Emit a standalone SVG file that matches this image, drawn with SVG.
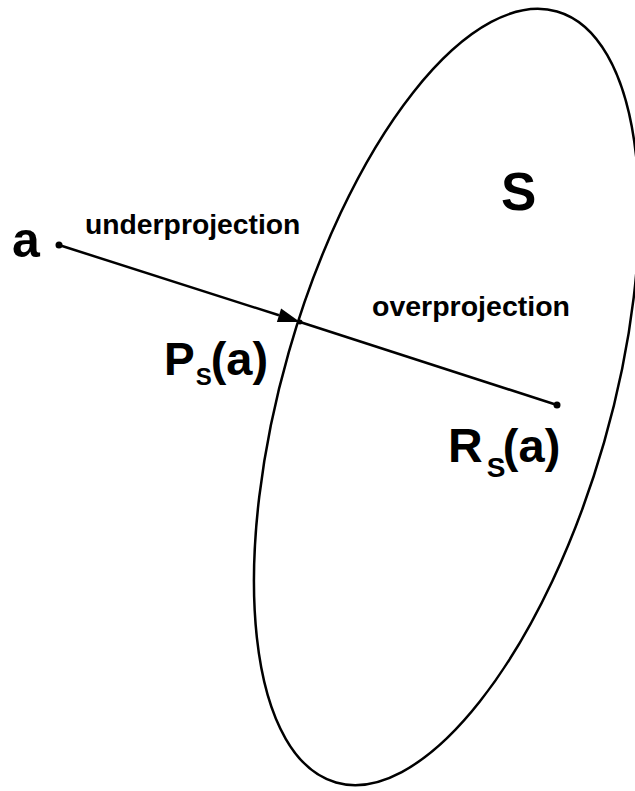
<svg xmlns="http://www.w3.org/2000/svg" width="635" height="791" viewBox="0 0 635 791">
<style>
.ln{stroke:#000;stroke-width:2.5;fill:none}
.t{font-family:"Liberation Sans",Arial,sans-serif;font-weight:bold;fill:#000}
</style>
<rect width="635" height="791" fill="#fff"/>
<g id="set-S">
<ellipse class="ln" cx="446.5" cy="397" rx="164" ry="401" transform="rotate(16 446.5 397)"/>
<text class="t" x="501" y="210" font-size="53">S</text>
</g>
<g id="connectors">
<path class="ln" d="M59,245 L279,315.3"/>
<path d="M300,322 L276.9,322 L281.1,308.6 Z" fill="#000"/>
<path class="ln" d="M300,322 L557,405"/>
<text class="t" x="85" y="234" font-size="28.3">underprojection</text>
<text class="t" x="372" y="316" font-size="28.5">overprojection</text>
</g>
<g id="node-a">
<circle cx="59" cy="245" r="3.5" fill="#000"/>
<text class="t" x="12" y="257" font-size="50">a</text>
</g>
<g id="node-P">
<circle cx="300" cy="322" r="2.5" fill="#000"/>
<text class="t" x="164" y="375" font-size="46">P<tspan font-size="24" dx="1" dy="10">S</tspan><tspan font-size="47" dx="-1" dy="-10">(a)</tspan></text>
</g>
<g id="node-R">
<circle cx="557" cy="405" r="3.5" fill="#000"/>
<text class="t" x="448" y="462" font-size="48">R<tspan font-size="28" dx="4" dy="15">S</tspan><tspan font-size="47" dx="-2.5" dy="-15">(a)</tspan></text>
</g>
</svg>
